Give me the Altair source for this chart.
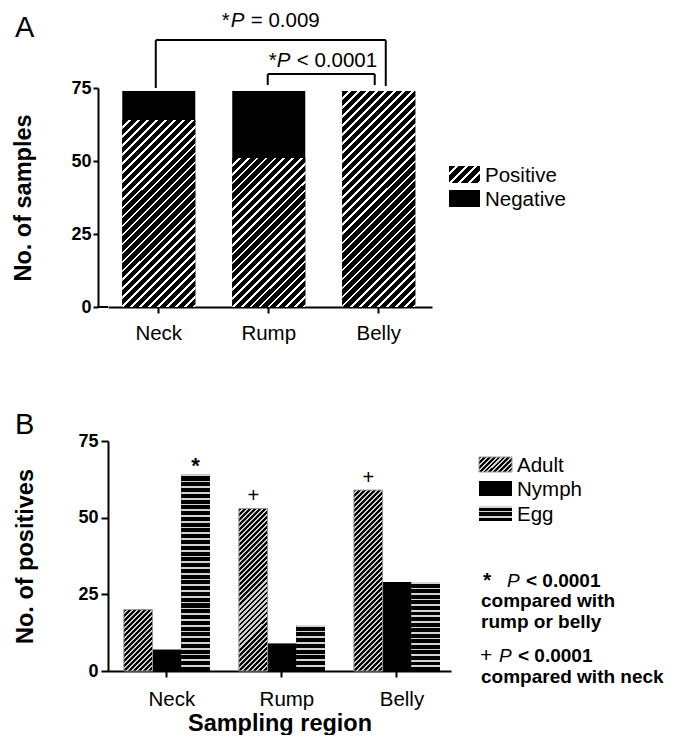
import altair as alt
import pandas as pd

FONT = "Liberation Sans"

# ---------------- data ----------------
regions = ["Neck", "Rump", "Belly"]
samples_total = [74, 74, 74]
samples_positive = [64, 51, 74]

stages = ["Adult", "Nymph", "Egg"]
adult_pos = [20, 53, 59]
nymph_pos = [7, 9, 29]
egg_pos = [64, 15, 29]

sym_region = ["Neck", "Rump", "Belly"]
sym_stage = ["Egg", "Adult", "Adult"]
sym_text = ["*", "+", "+"]

legend_a = ["Positive", "Negative"]
legend_b = ["Adult", "Nymph", "Egg"]

# ---------------- sizes ----------------
WA, HA = 324, 219
WB, HB = 343, 230
BW_A = 73.0
BW_B = 86.0 / 3


def diag_hatch(w, h, period, frac, bg, fg):
    n = max(1, round((w + h) / period))
    s = (w + h) / (w * w + h * h)
    stops = []
    for k in range(n):
        a = round(k / n, 5)
        b = round((k + 1 - frac) / n, 5)
        c = round((k + 1) / n, 5)
        stops += [alt.GradientStop(color=bg, offset=a), alt.GradientStop(color=bg, offset=b),
                  alt.GradientStop(color=fg, offset=b), alt.GradientStop(color=fg, offset=c)]
    return alt.LinearGradient(gradient="linear", stops=stops, x1=0, y1=0,
                              x2=round(w * s, 5), y2=round(h * s, 5))


def horiz_stripes(h, period, frac, bg, fg):
    n = max(1, round(h / period))
    stops = []
    for k in range(n):
        a = round(k / n, 5)
        b = round((k + frac) / n, 5)
        c = round((k + 1) / n, 5)
        stops += [alt.GradientStop(color=fg, offset=a), alt.GradientStop(color=fg, offset=b),
                  alt.GradientStop(color=bg, offset=b), alt.GradientStop(color=bg, offset=c)]
    return alt.LinearGradient(gradient="linear", stops=stops, x1=0, y1=0, x2=0, y2=1)


def ptext(txt, x, y, size, weight="normal", style="normal", align="left"):
    return alt.Chart(pd.DataFrame({"t": [txt]})).mark_text(
        align=align, baseline="alphabetic", font=FONT, fontSize=size,
        fontWeight=weight, fontStyle=style, color="black"
    ).encode(x=alt.value(x), y=alt.value(y), text="t:N")


def swatch(x0, x1, y0, y1, fill, stroke=None):
    kw = dict(fill=fill)
    if stroke:
        kw.update(stroke=stroke, strokeWidth=1)
    return alt.Chart(pd.DataFrame({"k": [0]})).mark_rect(**kw).encode(
        x=alt.value(x0), x2=alt.value(x1), y=alt.value(y0), y2=alt.value(y1))


# ================= Panel A =================
dfa = pd.DataFrame({"region": regions, "total": samples_total, "positive": samples_positive})

xA_scale = alt.Scale(domain=regions, paddingInner=0.336, paddingOuter=0.1409, align=0.46)
xA_axis = alt.Axis(title=None, labelAngle=0, labelFontSize=20.5, labelPadding=10,
                   tickSize=6, tickWidth=2, domainWidth=2)
yA_scale = alt.Scale(domain=[0, 75], nice=False, zero=True)
yA_axis = alt.Axis(values=[0, 25, 50, 75], title="No. of samples", offset=10,
                   labelFontSize=18, labelFontWeight="bold", labelPadding=2,
                   tickSize=5, tickWidth=2, domainWidth=2, grid=False,
                   titleFontSize=23.5, titleFontWeight="bold", titlePadding=35)


def xa(field="region"):
    return alt.X(f"{field}:N", scale=xA_scale, axis=xA_axis)


def ya(field):
    return alt.Y(f"{field}:Q", scale=yA_scale, axis=yA_axis)


layers_a = [alt.Chart(dfa).mark_bar(color="black").encode(x=xa(), y=ya("total"))]
for r, p in zip(regions, samples_positive):
    g = diag_hatch(BW_A, p * HA / 75, 9, 0.3, "black", "white")
    layers_a.append(
        alt.Chart(dfa).transform_filter(alt.datum.region == r)
        .mark_bar(fill=g).encode(x=xa(), y=ya("positive")))

# corner segment between the offset y-axis and the x-axis domain
layers_a.append(alt.Chart(pd.DataFrame({"k": [0]})).mark_rule(color="black", strokeWidth=2)
                .encode(x=alt.value(-11), x2=alt.value(0), y=alt.value(HA)))

# significance brackets
brackets = [
    dict(left="Neck", right="Belly", top=91.4, lb=75.0, rb=75.7, bpl=0.459, bpr=0.596),
    dict(left="Rump", right="Belly", top=79.8, lb=76.0, rb=76.0, bpl=0.486, bpr=0.445),
]
for b in brackets:
    d = pd.DataFrame({"left": [b["left"]], "right": [b["right"]], "top": [b["top"]],
                      "lb": [b["lb"]], "rb": [b["rb"]]})
    rule = alt.Chart(d).mark_rule(color="black", strokeWidth=2)
    layers_a.append(rule.encode(x=alt.X("left:N", scale=xA_scale, axis=xA_axis, bandPosition=b["bpl"]),
                                x2=alt.X2("right:N", bandPosition=b["bpr"]),
                                y=ya("top")))
    layers_a.append(rule.encode(x=alt.X("left:N", scale=xA_scale, axis=xA_axis, bandPosition=b["bpl"]),
                                y=ya("lb"), y2="top:Q"))
    layers_a.append(rule.encode(x=alt.X("right:N", scale=xA_scale, axis=xA_axis, bandPosition=b["bpr"]),
                                y=ya("rb"), y2="top:Q"))

# bracket labels
ann_pieces = [
    ("*", 96.0, -47, "normal"), ("P", 96.0, -38, "italic"), ("= 0.009", 96.0, -18, "normal"),
    ("*", 82.2, 0, "normal"), ("P", 82.2, 8, "italic"), ("< 0.0001", 82.2, 28, "normal"),
]
for t, yv, dx, st in ann_pieces:
    d = pd.DataFrame({"region": ["Rump"], "yv": [yv], "t": [t]})
    layers_a.append(alt.Chart(d).mark_text(align="left", baseline="alphabetic", dx=dx,
                                           font=FONT, fontSize=20.5, fontStyle=st, color="black")
                    .encode(x=xa(), y=ya("yv"), text="t:N"))

# legend A
layers_a.append(swatch(341, 372, 78, 95, diag_hatch(31, 17, 9, 0.3, "black", "white")))
layers_a.append(swatch(341, 372, 102, 119, "black"))
layers_a.append(ptext(legend_a[0], 377, 94, 20.5))
layers_a.append(ptext(legend_a[1], 377, 118, 20.5))
# panel label
layers_a.append(ptext("A", -93, -51, 29))

chart_a = alt.layer(*layers_a).properties(width=WA, height=HA)

# ================= Panel B =================
rows = []
for i, r in enumerate(regions):
    for s, vals in zip(stages, [adult_pos, nymph_pos, egg_pos]):
        rows.append({"region": r, "stage": s, "value": vals[i]})
dfb = pd.DataFrame(rows)

xB_scale = alt.Scale(domain=regions, paddingInner=0.252, paddingOuter=0.117, align=0.59)
xB_axis = alt.Axis(title="Sampling region", labelAngle=0, labelFontSize=20.5, labelPadding=12,
                   labelOffset=5, tickSize=6, tickWidth=2, domainWidth=2,
                   titleFontSize=23.5, titleFontWeight="bold", titlePadding=2)
yB_scale = alt.Scale(domain=[0, 75], nice=False, zero=True)
yB_axis = alt.Axis(values=[0, 25, 50, 75], title="No. of positives",
                   labelFontSize=18, labelFontWeight="bold", labelPadding=3,
                   tickSize=7, tickWidth=2, domainWidth=2, grid=False,
                   titleFontSize=23.5, titleFontWeight="bold", titlePadding=40)
off_scale = alt.Scale(domain=stages, paddingInner=0, paddingOuter=0)


def enc_b():
    return dict(x=alt.X("region:N", scale=xB_scale, axis=xB_axis),
                xOffset=alt.XOffset("stage:N", scale=off_scale),
                y=alt.Y("value:Q", scale=yB_scale, axis=yB_axis))


layers_b = [alt.Chart(dfb).mark_bar(color="black").encode(**enc_b())]
for r, v in zip(regions, adult_pos):
    g = diag_hatch(BW_B, v * HB / 75, 5, 0.45, "black", "#cfcfcf")
    layers_b.append(alt.Chart(dfb).transform_filter(
        (alt.datum.region == r) & (alt.datum.stage == "Adult"))
        .mark_bar(fill=g, stroke="#9a9a9a", strokeWidth=1).encode(**enc_b()))
for r, v in zip(regions, egg_pos):
    g = horiz_stripes(v * HB / 75, 5.7, 0.3, "black", "#d4d4d4")
    layers_b.append(alt.Chart(dfb).transform_filter(
        (alt.datum.region == r) & (alt.datum.stage == "Egg"))
        .mark_bar(fill=g).encode(**enc_b()))

# significance symbols
dfs = pd.DataFrame({"region": sym_region, "stage": sym_stage, "t": sym_text})
dfs = dfs.merge(dfb, on=["region", "stage"])
layers_b.append(alt.Chart(dfs).transform_filter(alt.datum.t == "*")
                .mark_text(baseline="alphabetic", dy=-2, font=FONT, fontSize=22,
                           fontWeight="bold", color="black")
                .encode(text="t:N", **enc_b()))
layers_b.append(alt.Chart(dfs).transform_filter(alt.datum.t == "+")
                .mark_text(baseline="alphabetic", dy=-6.5, font=FONT, fontSize=20,
                           color="black")
                .encode(text="t:N", **enc_b()))

# legend B
layers_b.append(swatch(371, 404, 16, 31, diag_hatch(33, 15, 5, 0.45, "black", "#cfcfcf"), "#9a9a9a"))
layers_b.append(swatch(371, 404, 40, 55, "black"))
layers_b.append(swatch(371, 404, 65, 80, horiz_stripes(15, 5, 0.3, "black", "#d4d4d4")))
for t, yb in zip(legend_b, [31, 55, 80]):
    layers_b.append(ptext(t, 409, yb, 20.5))

# footnotes
FN = 19
layers_b.append(ptext("*", 375, 146, FN + 2, weight="bold"))
layers_b.append(ptext("P", 399, 146, FN, style="italic"))
layers_b.append(ptext("< 0.0001", 418, 146, FN, weight="bold"))
layers_b.append(ptext("compared with", 373, 166, FN, weight="bold"))
layers_b.append(ptext("rump or belly", 373, 187, FN, weight="bold"))
layers_b.append(ptext("+", 372, 221, FN + 2))
layers_b.append(ptext("P", 391, 221, FN, style="italic"))
layers_b.append(ptext("< 0.0001", 410, 221, FN, weight="bold"))
layers_b.append(ptext("compared with neck", 373, 242, FN, weight="bold"))
# panel label
layers_b.append(ptext("B", -93, -7, 29))

chart_b = alt.layer(*layers_b).properties(width=WB, height=HB)

chart = alt.vconcat(chart_a, chart_b, spacing=67).properties(
    padding={"left": 3, "top": 2, "right": 0, "bottom": 0}
).configure(background="white").configure_view(stroke=None).configure_axis(
    labelFont=FONT, titleFont=FONT, labelColor="black", titleColor="black",
    domainColor="black", tickColor="black"
)

chart.save("out.html", embed_options={"renderer": "svg", "actions": False})
